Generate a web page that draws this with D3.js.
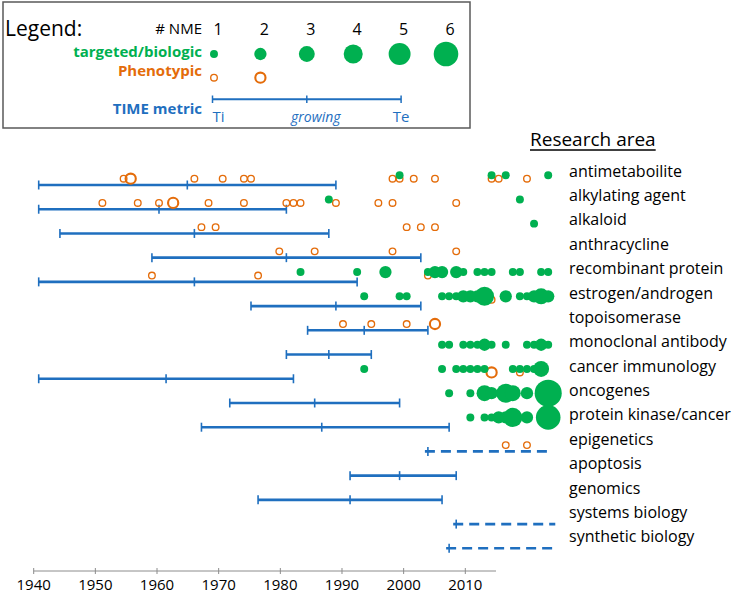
<!DOCTYPE html>
<html>
<head>
<meta charset="utf-8">
<script src="https://cdn.jsdelivr.net/npm/d3@7"></script>
<style>
  html, body { margin: 0; padding: 0; background: #fff; }
  svg { display: block; }
  text { font-family: "Open Sans", Lato, sans-serif; }
</style>
</head>
<body>
<svg id="chart" width="740" height="602"></svg>
<script>
// ---------------- DATA ----------------
const areas = [
  "antimetaboilite", "alkylating agent", "alkaloid", "anthracycline",
  "recombinant protein", "estrogen/androgen", "topoisomerase",
  "monoclonal antibody", "cancer immunology", "oncogenes",
  "protein kinase/cancer", "epigenetics", "apoptosis", "genomics",
  "systems biology", "synthetic biology"
];

// TIME metric per research area: Ti (initiation), midpoint (growing), Te (established)
const timeTi  = [1940, 1940, 1943, 1956, 1940, 1970, 1978, 1975, 1940, 1967, 1963, 1995, 1984, 1971, 1999, 1998];
const timeMid = [1961, 1957, 1962, 1975, 1962, 1982, 1986, 1981, 1958, 1979, 1980, null, 1991, 1984, null, null];
const timeTe  = [1982, 1975, 1981, 1994, 1985, 1994, 1995, 1987, 1976, 1991, 1998, null, 1999, 1997, null, null];
// areas still growing (no Te yet): dashed through
const timeOpenTo = [null, null, null, null, null, null, null, null, null, null, null, 2012, null, null, 2013, 2013];

// NME approvals: [area, year, number of NMEs]
const phenotypic = [
  ["antimetaboilite",1952,1],["antimetaboilite",1953,2],["antimetaboilite",1962,1],["antimetaboilite",1966,1],
  ["antimetaboilite",1969,1],["antimetaboilite",1970,1],["antimetaboilite",1990,1],["antimetaboilite",1991,1],
  ["antimetaboilite",1993,1],["antimetaboilite",1996,1],["antimetaboilite",2004,1],["antimetaboilite",2005,1],
  ["antimetaboilite",2009,1],
  ["alkylating agent",1949,1],["alkylating agent",1954,1],["alkylating agent",1957,1],["alkylating agent",1959,2],
  ["alkylating agent",1964,1],["alkylating agent",1969,1],["alkylating agent",1975,1],["alkylating agent",1976,1],
  ["alkylating agent",1977,1],["alkylating agent",1982,1],["alkylating agent",1988,1],["alkylating agent",1990,1],
  ["alkylating agent",1999,1],
  ["alkaloid",1963,1],["alkaloid",1965,1],["alkaloid",1992,1],["alkaloid",1994,1],["alkaloid",1996,1],
  ["anthracycline",1974,1],["anthracycline",1979,1],["anthracycline",1990,1],["anthracycline",1999,1],
  ["recombinant protein",1956,1],["recombinant protein",1971,1],["recombinant protein",1995,1],
  ["estrogen/androgen",2004,1],
  ["topoisomerase",1983,1],["topoisomerase",1987,1],["topoisomerase",1992,1],["topoisomerase",1996,2],
  ["cancer immunology",2004,2],["cancer immunology",2008,1],
  ["epigenetics",2006,1],["epigenetics",2009,1]
];

const targeted = [
  ["antimetaboilite",1991,1],["antimetaboilite",2004,1],["antimetaboilite",2006,1],["antimetaboilite",2012,1],
  ["alkylating agent",1981,1],["alkylating agent",2008,1],
  ["alkaloid",2010,1],
  ["recombinant protein",1977,1],["recombinant protein",1985,1],["recombinant protein",1989,2],
  ["recombinant protein",1995,1],["recombinant protein",1996,2],["recombinant protein",1997,2],
  ["recombinant protein",1999,2],["recombinant protein",2000,1],["recombinant protein",2002,1],
  ["recombinant protein",2003,1],["recombinant protein",2004,1],["recombinant protein",2007,1],
  ["recombinant protein",2008,1],["recombinant protein",2011,1],["recombinant protein",2012,1],
  ["estrogen/androgen",1986,1],["estrogen/androgen",1991,1],["estrogen/androgen",1992,1],
  ["estrogen/androgen",1997,1],["estrogen/androgen",1998,1],["estrogen/androgen",1999,1],
  ["estrogen/androgen",2000,2],["estrogen/androgen",2001,2],["estrogen/androgen",2002,2],
  ["estrogen/androgen",2003,4],["estrogen/androgen",2006,2],["estrogen/androgen",2008,1],
  ["estrogen/androgen",2009,1],["estrogen/androgen",2010,2],["estrogen/androgen",2011,3],
  ["estrogen/androgen",2012,2],
  ["monoclonal antibody",1997,1],["monoclonal antibody",1998,1],["monoclonal antibody",2000,1],
  ["monoclonal antibody",2001,1],["monoclonal antibody",2002,1],["monoclonal antibody",2003,2],
  ["monoclonal antibody",2004,1],["monoclonal antibody",2006,1],["monoclonal antibody",2009,1],
  ["monoclonal antibody",2010,1],["monoclonal antibody",2011,2],["monoclonal antibody",2012,1],
  ["cancer immunology",1986,1],["cancer immunology",1997,1],["cancer immunology",1999,1],
  ["cancer immunology",2000,1],["cancer immunology",2001,1],["cancer immunology",2002,1],
  ["cancer immunology",2003,1],["cancer immunology",2007,1],["cancer immunology",2008,1],
  ["cancer immunology",2009,1],["cancer immunology",2010,1],["cancer immunology",2011,3],
  ["oncogenes",1998,1],["oncogenes",2001,1],["oncogenes",2003,3],["oncogenes",2004,2],
  ["oncogenes",2006,4],["oncogenes",2007,3],["oncogenes",2009,2],["oncogenes",2012,7],
  ["protein kinase/cancer",2001,1],["protein kinase/cancer",2003,1],["protein kinase/cancer",2004,1],
  ["protein kinase/cancer",2005,2],["protein kinase/cancer",2006,2],["protein kinase/cancer",2007,4],
  ["protein kinase/cancer",2009,2],["protein kinase/cancer",2012,6]
];

const axisYears = [1940, 1950, 1960, 1970, 1980, 1990, 2000, 2010];
const legendCounts = [1, 2, 3, 4, 5, 6];
const legendPhenoCounts = [1, 2];
const legendTime = ["Ti", "growing", "Te"];

// ---------------- STYLE ----------------
const GREEN = "#00b050", ORANGE = "#e46c0a", BLUE = "#1f6fbf", BLUE_TXT = "#1f6fbf";

const svg = d3.select("#chart");

// scales
const x = d3.scaleLinear().domain([1940, 2012]).range([38.7, 548.2]);          // data years
const xAxisScale = d3.scaleLinear().domain([1940, 2010]).range([33.7, 465.3]);  // printed axis
const yRow = d3.scalePoint().domain(areas).range([185, 548.3]);                  // timeline rows
const yLabel = d3.scalePoint().domain(areas).range([171, 536.7]);
const r = d3.scalePow().exponent(0.63).domain([0, 6]).range([0, 12.3]);

// ---------------- TIMELINES ----------------
const tl = svg.append("g").attr("class", "timelines");
areas.forEach((a, i) => {
  const y = yRow(a);
  if (timeTe[i] != null) {
    tl.append("line").attr("x1", x(timeTi[i])).attr("x2", x(timeTe[i]))
      .attr("y1", y).attr("y2", y).attr("stroke", BLUE).attr("stroke-width", 2.6);
    [timeTi[i], timeMid[i], timeTe[i]].forEach(v => {
      tl.append("line").attr("x1", x(v)).attr("x2", x(v)).attr("y1", y - 4.5).attr("y2", y + 4.5)
        .attr("stroke", BLUE).attr("stroke-width", 1.6);
    });
  } else {
    tl.append("line").attr("x1", x(timeTi[i]) - 3).attr("x2", x(timeOpenTo[i]))
      .attr("y1", y).attr("y2", y).attr("stroke", BLUE).attr("stroke-width", 2.6)
      .attr("stroke-dasharray", "10,6");
    tl.append("line").attr("x1", x(timeTi[i])).attr("x2", x(timeTi[i])).attr("y1", y - 4.5).attr("y2", y + 4.5)
      .attr("stroke", BLUE).attr("stroke-width", 1.6);
  }
});

// ---------------- DOTS ----------------
function strokeW(n) { return Math.max(1.3, r(n) * 0.34); }
function ringR(n) { return r(n) - strokeW(n) / 2; }

svg.append("g").selectAll("circle").data(phenotypic).join("circle")
  .attr("cx", d => x(d[1])).attr("cy", d => yRow(d[0]) - 6.3)
  .attr("r", d => ringR(d[2])).attr("fill", "none")
  .attr("stroke", ORANGE).attr("stroke-width", d => strokeW(d[2]));

svg.append("g").selectAll("circle").data(targeted).join("circle")
  .attr("cx", d => x(d[1])).attr("cy", d => yRow(d[0]) - 9.8)
  .attr("r", d => r(d[2])).attr("fill", GREEN);

// ---------------- ROW LABELS ----------------
const ra = svg.append("text").attr("x", 530).attr("y", 139).attr("dy", "0.35em").text("Research area")
  .attr("font-size", 19).attr("fill", "#000");
const raW = ra.node().getComputedTextLength();
svg.append("line").attr("x1", 530).attr("x2", 530 + raW).attr("y1", 150).attr("y2", 150)
  .attr("stroke", "#000").attr("stroke-width", 1.3);
svg.append("g").selectAll("text").data(areas).join("text")
  .attr("x", 569).attr("y", d => yLabel(d)).attr("dy", "0.35em")
  .attr("font-size", 16).attr("fill", "#000").text(d => d);

// ---------------- AXIS ----------------
const axisG = svg.append("g").attr("transform", "translate(0,571)");
axisG.append("line").attr("x1", xAxisScale(1940)).attr("x2", 496).attr("stroke", "#8c8c8c").attr("stroke-width", 1);
axisG.selectAll("line.tk").data(axisYears).join("line").attr("class", "tk")
  .attr("x1", d => xAxisScale(d)).attr("x2", d => xAxisScale(d)).attr("y1", -3).attr("y2", 3)
  .attr("stroke", "#8c8c8c");
axisG.selectAll("text").data(axisYears).join("text")
  .attr("x", d => xAxisScale(d)).attr("y", 14).attr("text-anchor", "middle").attr("dy", "0.35em")
  .attr("font-size", 15).attr("fill", "#000").text(d => d);

// ---------------- LEGEND ----------------
const lg = svg.append("g");
lg.append("rect").attr("x", 3).attr("y", 2).attr("width", 467).attr("height", 126)
  .attr("fill", "none").attr("stroke", "#595959").attr("stroke-width", 1.5);
const xl = d3.scaleLinear().domain([1, 6]).range([214, 446]);
lg.append("text").attr("x", 5).attr("y", 29).attr("dy", "0.35em").attr("font-size", 21).text("Legend:");
lg.append("text").attr("x", 202).attr("y", 29).attr("dy", "0.35em").attr("font-size", 15)
  .attr("text-anchor", "end").text("# NME");
lg.selectAll("text.num").data(legendCounts).join("text").attr("class", "num")
  .attr("x", d => xl(d) + 4).attr("y", 29).attr("dy", "0.35em").attr("font-size", 16)
  .attr("text-anchor", "middle").text(d => d);
lg.append("text").attr("x", 202).attr("y", 52).attr("dy", "0.35em").attr("font-size", 15)
  .attr("font-weight", "bold").attr("fill", GREEN).attr("text-anchor", "end").text("targeted/biologic");
lg.append("text").attr("x", 202).attr("y", 71).attr("dy", "0.35em").attr("font-size", 15)
  .attr("font-weight", "bold").attr("fill", ORANGE).attr("text-anchor", "end").text("Phenotypic");
lg.selectAll("circle.g").data(legendCounts).join("circle").attr("class", "g")
  .attr("cx", d => xl(d)).attr("cy", 54).attr("r", d => r(d)).attr("fill", GREEN);
lg.selectAll("circle.o").data(legendPhenoCounts).join("circle").attr("class", "o")
  .attr("cx", d => xl(d)).attr("cy", 77.7).attr("r", d => ringR(d)).attr("fill", "none")
  .attr("stroke", ORANGE).attr("stroke-width", d => strokeW(d));
lg.append("text").attr("x", 202).attr("y", 109).attr("dy", "0.35em").attr("font-size", 15)
  .attr("font-weight", "bold").attr("fill", BLUE_TXT).attr("text-anchor", "end").text("TIME metric");
const tx = [xl(1) - 1.5, (xl(1) - 1.5 + xl(5) + 1.5) / 2, xl(5) + 1.5];
lg.append("line").attr("x1", tx[0]).attr("x2", tx[2]).attr("y1", 99.3).attr("y2", 99.3)
  .attr("stroke", BLUE).attr("stroke-width", 2);
tx.forEach(v => lg.append("line").attr("x1", v).attr("x2", v).attr("y1", 95.5).attr("y2", 103)
  .attr("stroke", BLUE).attr("stroke-width", 1.5));
lg.append("text").attr("x", tx[0]).attr("y", 117).attr("dy", "0.35em").attr("font-size", 15)
  .attr("fill", BLUE_TXT).text(legendTime[0]);
lg.append("text").attr("x", tx[1] + 9).attr("y", 117).attr("dy", "0.35em").attr("font-size", 14)
  .attr("font-style", "italic").attr("fill", BLUE_TXT).attr("text-anchor", "middle").text(legendTime[1]);
lg.append("text").attr("x", tx[2]).attr("y", 117).attr("dy", "0.35em").attr("font-size", 15)
  .attr("fill", BLUE_TXT).attr("text-anchor", "middle").text(legendTime[2]);
</script>
</body>
</html>
